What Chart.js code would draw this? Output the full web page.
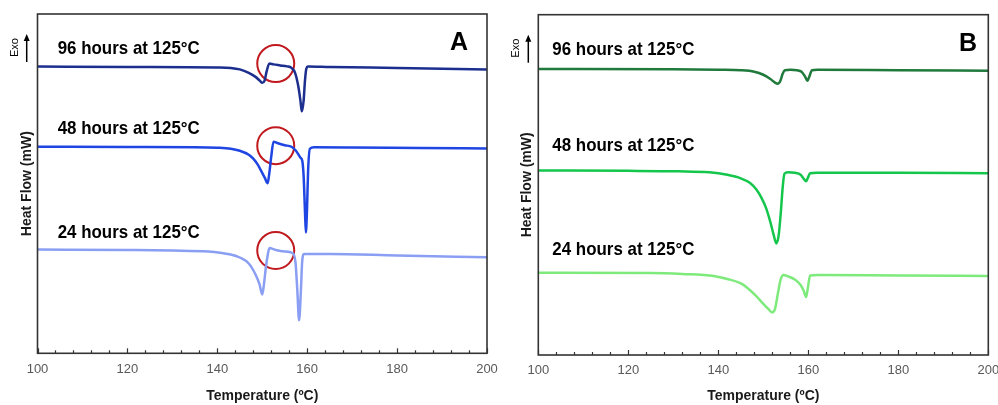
<!DOCTYPE html>
<html>
<head>
<meta charset="utf-8">
<script src="https://cdn.jsdelivr.net/npm/chart.js@4.4.1/dist/chart.umd.min.js"></script>
<style>
  html, body { margin: 0; padding: 0; background: #ffffff; }
  #wrap { position: relative; width: 998px; height: 405px; overflow: hidden; }
  .panel { position: absolute; top: 0; width: 499px; height: 405px; }
  #pa { left: 0; }
  #pb { left: 499px; }
</style>
</head>
<body>
<div id="wrap">
  <div class="panel" id="pa"><canvas id="ca" width="499" height="405"></canvas></div>
  <div class="panel" id="pb"><canvas id="cb" width="499" height="405"></canvas></div>
</div>
<script>
// DSC heating scans (heat flow, arbitrary offset units, exo up)
const xTicks = [100, 120, 140, 160, 180, 200];
const seriesNames = ['96 hours at 125°C', '48 hours at 125°C', '24 hours at 125°C'];

// Panel A
const tA96 = [100, 120, 140, 143, 145, 147, 148.5, 149.5, 150, 150.5, 151, 151.6, 152.5, 154, 155.5, 156.5, 157.3, 158, 158.5, 158.8, 159.2, 159.5, 159.8, 160.2, 165, 180, 200];
const hA96 = [287.3, 287, 286.5, 286, 284.5, 281, 277, 273, 271, 273, 283, 290.5, 289.5, 288.5, 287.5, 286, 281, 268, 253, 242.5, 253, 273, 285, 287.5, 287, 286, 284.5];

const tA48 = [100, 120, 135, 140, 143, 145, 147, 148, 149, 149.9, 150.6, 151.2, 151.5, 152, 152.5, 153.5, 155, 156.5, 157.5, 158.5, 158.9, 159.2, 159.5, 159.7, 159.95, 160.2, 160.6, 161.5, 170, 185, 200];
const hA48 = [207, 206.7, 206.5, 206, 205, 203, 199, 195, 189, 181.5, 175.5, 170.5, 178, 197, 212, 210.5, 208.5, 207, 203, 196, 193, 178, 143, 121, 143, 183, 205, 206.5, 206.3, 205.7, 205.2];

const tA24 = [100, 120, 130, 138, 141, 143, 145, 147, 148.5, 149.4, 150, 150.4, 150.8, 151.2, 151.6, 153, 155, 156.7, 157.4, 157.8, 158.2, 158.6, 158.9, 159.3, 165, 180, 200];
const hA24 = [104, 103.5, 103, 102, 100.5, 99, 96, 90, 79, 69, 59, 70, 86, 98, 105.5, 103.5, 102, 100.5, 91, 63, 33, 63, 93, 99.5, 99.5, 98, 96.3];

// Exotherm onset markers (panel A)
const markTA = [153, 153, 153];
const markHA = [290.3, 208, 103];

// Panel B
const tB96 = [100, 130, 140, 145, 148, 150, 151.5, 152.5, 153.2, 153.8, 154.3, 154.8, 156, 157.5, 158.5, 159.3, 159.8, 160.3, 160.8, 162, 180, 200];
const hB96 = [285.7, 285.5, 285, 284.5, 283, 280, 276, 272.5, 271, 274, 281, 284.5, 285, 284.5, 283, 278, 274, 279, 284.5, 285, 284.5, 284];

const tB48 = [100, 120, 131, 138, 142, 145, 147, 148.5, 149.6, 150.6, 151.5, 152.3, 152.9, 153.4, 153.9, 154.3, 154.7, 155.5, 157, 158.3, 159, 159.5, 159.9, 160.4, 162, 180, 200];
const hB48 = [184.3, 184, 183.5, 182.5, 180, 176.5, 172, 165, 157, 147, 134, 120, 111.5, 119, 143, 167, 181, 182.5, 182, 180, 176, 173.5, 177, 181.5, 182, 182, 181.7];

const tB24 = [100, 125, 132, 139, 142, 145, 147, 148.5, 150, 151.1, 152, 152.6, 153.3, 153.9, 154.5, 155.5, 157, 158.3, 159, 159.5, 159.9, 160.4, 162, 180, 200];
const hB24 = [82.3, 82, 81, 79, 76, 71.5, 65, 58.5, 51, 46, 42.5, 46, 63, 76, 80, 78.5, 75.5, 70, 64, 58, 67, 79.5, 80, 79.5, 79];

const zip = (xs, ys) => xs.map((x, i) => ({ x: x, y: ys[i] }));

// Frame, inward x ticks, curve labels, panel letter and the Exo arrow
const decorPlugin = {
  id: 'decor',
  afterDraw(chart, args, o) {
    const ctx = chart.ctx;
    const a = chart.chartArea;
    const xs = chart.scales.x;
    ctx.save();
    // inward tick marks every 4 °C, longer at labelled values
    ctx.strokeStyle = '#333333';
    ctx.lineWidth = 1.2;
    for (let t = xs.min; t <= xs.max + 0.001; t += 4) {
      const px = Math.round(xs.getPixelForValue(t)) + 0.5;
      const len = (t % 20 === 0) ? 5 : 3;
      ctx.beginPath();
      ctx.moveTo(px, a.bottom);
      ctx.lineTo(px, a.bottom - len);
      ctx.stroke();
    }
    // plot frame
    ctx.strokeStyle = '#333333';
    ctx.lineWidth = 1.6;
    ctx.strokeRect(a.left, a.top, a.right - a.left, a.bottom - a.top);

    // curve labels (condensed bold)
    ctx.fillStyle = '#000000';
    ctx.font = 'bold 19px "Liberation Sans", Arial, sans-serif';
    ctx.textAlign = 'left';
    ctx.textBaseline = 'middle';
    o.labels.forEach((lb, i) => {
      ctx.save();
      ctx.translate(a.left + o.labelDx, a.top + o.labelDy[i]);
      ctx.scale(0.89, 1);
      ctx.fillText(lb, 0, 0);
      ctx.restore();
    });

    // panel letter
    ctx.font = 'bold 25px "Liberation Sans", Arial, sans-serif';
    ctx.textAlign = 'center';
    ctx.fillText(o.letter, a.right + o.letterDx, a.top + 29.5);

    // Exo arrow
    const ax = a.left - o.arrowDx;
    ctx.strokeStyle = '#000000';
    ctx.lineWidth = 1.5;
    ctx.beginPath();
    ctx.moveTo(ax, a.top + 48);
    ctx.lineTo(ax, a.top + 24);
    ctx.stroke();
    ctx.beginPath();
    ctx.moveTo(ax, a.top + 20);
    ctx.lineTo(ax - 3, a.top + 27);
    ctx.lineTo(ax + 3, a.top + 27);
    ctx.closePath();
    ctx.fill();
    ctx.save();
    ctx.translate(a.left - o.exoDx, a.top + 33.5);
    ctx.rotate(-Math.PI / 2);
    ctx.font = '11px "Liberation Sans", Arial, sans-serif';
    ctx.textAlign = 'center';
    ctx.textBaseline = 'middle';
    ctx.fillText('Exo', 0, 0);
    ctx.restore();
    ctx.restore();
  }
};

function makePanel(canvasId, curves, colors, marks, cfg) {
  const datasets = curves.map((c, i) => ({
    label: seriesNames[i],
    data: c,
    showLine: true,
    borderColor: colors[i],
    borderWidth: 2.5,
    pointRadius: 0,
    cubicInterpolationMode: 'monotone',
    fill: false
  }));
  if (marks) {
    datasets.push({
      label: 'onset',
      data: marks,
      showLine: false,
      pointRadius: 18.5,
      pointBorderWidth: 2,
      pointBorderColor: '#c0191e',
      pointBackgroundColor: 'rgba(0,0,0,0)'
    });
  }
  return new Chart(document.getElementById(canvasId), {
    type: 'scatter',
    data: { datasets: datasets },
    options: {
      responsive: false,
      animation: false,
      events: [],
      layout: { autoPadding: false, padding: { left: 0, right: cfg.padRight, top: cfg.padTop, bottom: 0 } },
      plugins: {
        legend: { display: false },
        tooltip: { enabled: false },
        decor: cfg.decor
      },
      scales: {
        x: {
          type: 'linear',
          min: 100,
          max: 200,
          afterBuildTicks: (s) => { s.ticks = xTicks.map(v => ({ value: v })); },
          afterFit: (s) => { s.height = cfg.xHeight; s.paddingLeft = 0; s.paddingRight = 0; },
          grid: { display: false },
          border: { display: false },
          ticks: {
            color: '#595959',
            padding: 0,
            maxRotation: 0,
            font: { family: '"Liberation Sans", Arial, sans-serif', size: 13 }
          },
          title: {
            display: true,
            text: 'Temperature (ºC)',
            color: '#1a1a1a',
            padding: { top: 0, bottom: 0 },
            font: { family: '"Liberation Sans", Arial, sans-serif', size: 14, weight: 'bold' }
          }
        },
        y: {
          min: 0,
          max: 340,
          afterFit: (s) => { s.width = cfg.yWidth; },
          grid: { display: false },
          border: { display: false },
          ticks: { display: false },
          title: {
            display: true,
            text: 'Heat Flow (mW)',
            color: '#1a1a1a',
            padding: { top: cfg.yTitlePad, bottom: 0 },
            font: { family: '"Liberation Sans", Arial, sans-serif', size: 14, weight: 'bold' }
          }
        }
      }
    },
    plugins: [decorPlugin]
  });
}

makePanel('ca',
  [zip(tA96, hA96), zip(tA48, hA48), zip(tA24, hA24)],
  ['#1c2f8e', '#1f45e3', '#8a9ff3'],
  zip(markTA, markHA),
  {
    padRight: 12, padTop: 14, xHeight: 51.7, yWidth: 37.5, yTitlePad: 18.3,
    decor: { labels: seriesNames, labelDx: 20.2, labelDy: [34.3, 114.3, 218.3], letter: 'A', letterDx: -28, arrowDx: 10.8, exoDx: 22.5 }
  });

makePanel('cb',
  [zip(tB96, hB96), zip(tB48, hB48), zip(tB24, hB24)],
  ['#1f7a3c', '#14c64c', '#7eea7c'],
  null,
  {
    padRight: 9.7, padTop: 14.7, xHeight: 50, yWidth: 39.3, yTitlePad: 19.3,
    decor: { labels: seriesNames, labelDx: 14, labelDy: [34.6, 131, 235.3], letter: 'B', letterDx: -20.3, arrowDx: 10, exoDx: 22.3 }
  });
</script>
</body>
</html>
